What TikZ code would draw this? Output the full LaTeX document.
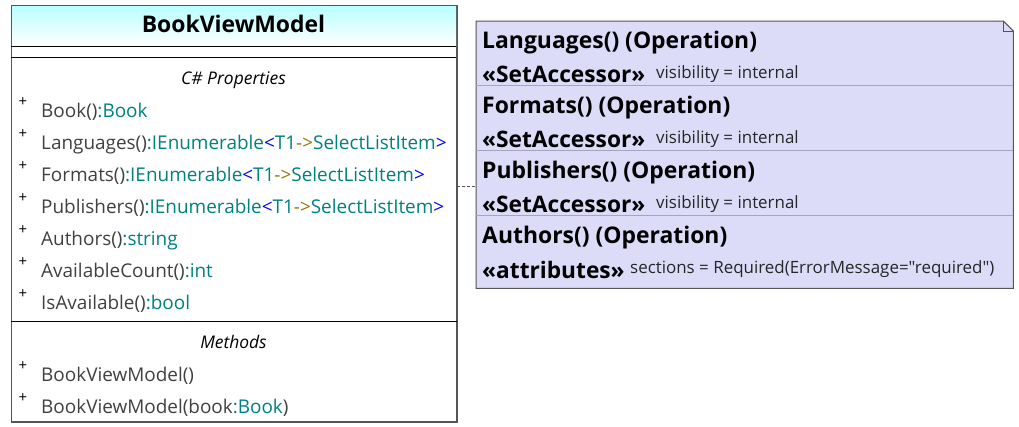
\documentclass[tikz,border=0pt]{standalone}
\usepackage{fontspec}
\setmainfont{Open Sans}[Ligatures=TeXOff]
\definecolor{membergrey}{RGB}{64,64,64}
\definecolor{typeteal}{RGB}{0,128,128}
\definecolor{genblue}{RGB}{0,0,255}
\definecolor{arrowgold}{RGB}{150,120,0}
\definecolor{boxline}{RGB}{85,85,85}
\definecolor{notefill}{RGB}{220,220,248}
\definecolor{notesep}{RGB}{165,165,195}
\newcommand{\ty}[1]{\textcolor{typeteal}{#1}}
\newcommand{\listof}{\ty{IEnumerable}\textcolor{genblue}{<}\ty{T1}\textcolor{arrowgold}{->}\ty{SelectListItem}\textcolor{genblue}{>}}
\begin{document}
\begin{tikzpicture}[x=1bp, y=-1bp,
    classbox/.style={draw=boxline, line width=1bp, inner sep=0, anchor=north west},
    headbox/.style={inner sep=0, anchor=north west, top color=cyan!28, bottom color=white},
    classtitle/.style={font=\fontsize{23}{26}\selectfont\bfseries, anchor=base, inner sep=0},
    section/.style={font=\fontsize{17.5}{20}\selectfont\itshape, anchor=base, inner sep=0},
    member/.style={font=\fontsize{19}{22}\selectfont, text=membergrey, anchor=base west, inner sep=0},
    plus/.style={font=\fontsize{15}{17}\selectfont, inner sep=0},
    optitle/.style={font=\fontsize{23}{26}\selectfont\bfseries, anchor=base west, inner sep=0},
    stereo/.style={font=\fontsize{22.8}{26}\selectfont\bfseries, anchor=base west, inner sep=0},
    tagval/.style={font=\fontsize{17}{20}\selectfont, text=black!85, anchor=base west, inner sep=0},
    noteline/.style={draw=boxline, dash pattern=on 3bp off 2bp, line width=0.6bp}
]
    \useasboundingbox (0,0) rectangle (1019,426);

    % Class box
    \node[classbox, minimum width=445bp, minimum height=416bp] (cls) at (11,5) {};
    \node[headbox, minimum width=445bp, minimum height=41bp] (head) at (11,5) {};
    \draw[boxline, line width=1bp] (cls.north west) rectangle (cls.south east);
    \draw[line width=1bp] (head.south west) -- (head.south east);
    \draw[line width=1bp] ([yshift=-11bp]head.south west) -- ([yshift=-11bp]head.south east);
    \draw[line width=1bp] (cls.west |- 0,321) -- (cls.east |- 0,321);
    \node[classtitle] (title) at (233.5,32.5) {BookViewModel};

    % Properties
    \node[section] (props) at (233.5,84) {C\# Properties};
    \node[member] (book) at (41,117) {Book()\ty{:Book}};
    \node[member] (langs) at (41,149) {Languages()\ty{:}\listof};
    \node[member] (formats) at (41,181) {Formats()\ty{:}\listof};
    \node[member] (pubs) at (41,213) {Publishers()\ty{:}\listof};
    \node[member] (authors) at (41,245) {Authors()\ty{:string}};
    \node[member] (count) at (41,277) {AvailableCount()\ty{:int}};
    \node[member] (avail) at (41,309) {IsAvailable()\ty{:bool}};

    % Methods
    \node[section] (meths) at (233.5,348) {Methods};
    \node[member] (ctor) at (41,381) {BookViewModel()};
    \node[member] (ctorbook) at (41,413) {BookViewModel(book\ty{:Book})};

    % Visibility marks
    \foreach \y in {102,134,166,198,230,262,294,366,398}
        \node[plus] at (23,\y) {+};

    % Note
    \node[inner sep=0, anchor=north west, minimum width=537bp, minimum height=267bp] (note) at (476,21) {};
    \draw[boxline, line width=1bp, fill=notefill] (note.south west) -- (note.north west)
        -- ([xshift=-10bp]note.north east) -- ([yshift=-10bp]note.north east)
        -- (note.south east) -- cycle;
    \draw[boxline, line width=0.8bp] ([xshift=-10bp]note.north east) |- ([yshift=-10bp]note.north east);
    \foreach \y in {85,150,215}
        \draw[notesep, line width=1bp] (note.west |- 0,\y) -- (note.east |- 0,\y);

    \node[optitle] (oplangs) at (482,48) {Languages() (Operation)};
    \node[stereo] (stlangs) at (482,82) {«SetAccessor»};
    \node[tagval] (tvlangs) at (656,78) {visibility = internal};
    \node[optitle] (opformats) at (482,113) {Formats() (Operation)};
    \node[stereo] (stformats) at (482,147) {«SetAccessor»};
    \node[tagval] (tvformats) at (656,143) {visibility = internal};
    \node[optitle] (oppubs) at (482,178) {Publishers() (Operation)};
    \node[stereo] (stpubs) at (482,212) {«SetAccessor»};
    \node[tagval] (tvpubs) at (656,208) {visibility = internal};
    \node[optitle] (opauthors) at (482,243) {Authors() (Operation)};
    \node[stereo] (stauthors) at (482,278) {«attributes»};
    \node[tagval] (tvauthors) at (630,273) {sections = Required(ErrorMessage="required")};

    % Note link
    \coordinate (link) at (cls.east |- 0,186);
    \draw[noteline] (link) -- (link -| note.west);
\end{tikzpicture}
\end{document}
